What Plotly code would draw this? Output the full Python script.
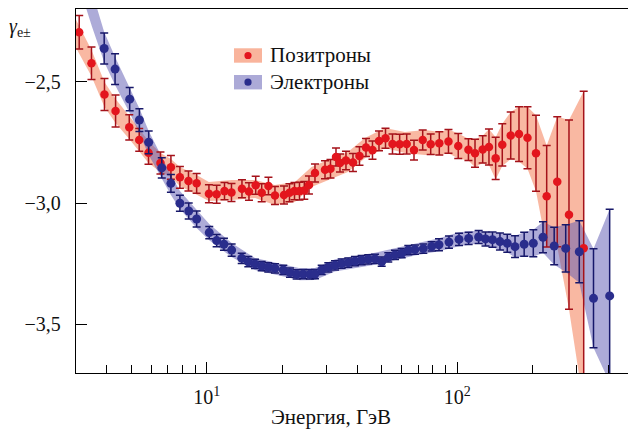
import math
import plotly.graph_objects as go

# ---- positrons: energy (GeV), spectral index, uncertainty ----
e_pos = [3.10, 3.47, 3.91, 4.33, 4.91, 5.38, 5.86, 6.54, 7.20, 7.82, 8.46, 9.12,
         10.21, 10.96, 11.78, 12.56, 13.83, 14.75, 15.69, 16.58, 17.64, 18.73,
         20.35, 21.40, 22.41, 23.46, 24.52, 25.60, 27.05, 29.66, 31.19, 32.81,
         34.04, 35.96, 38.35, 40.71, 43.22, 45.88, 48.71, 51.71, 55.14, 58.89,
         62.83, 67.19, 72.78, 78.33, 84.77, 92.23, 100.9, 110.8, 117.7, 126.3,
         133.8, 142.3, 151.2, 163.4, 176.3, 190.6, 206.1, 227.4, 250.6, 279.1, 319.5]
g_pos = [-2.296, -2.424, -2.553, -2.621, -2.688, -2.740, -2.793, -2.835, -2.853, -2.894,
         -2.909, -2.919, -2.962, -2.964, -2.951, -2.957, -2.941, -2.953, -2.927, -2.958,
         -2.930, -2.969, -2.967, -2.958, -2.951, -2.951, -2.948, -2.926, -2.876, -2.863,
         -2.859, -2.810, -2.835, -2.825, -2.833, -2.806, -2.771, -2.782, -2.744, -2.733,
         -2.757, -2.758, -2.757, -2.782, -2.740, -2.758, -2.754, -2.746, -2.765, -2.780,
         -2.795, -2.779, -2.769, -2.816, -2.760, -2.722, -2.716, -2.731, -2.795, -2.972,
         -2.912, -3.048, -3.186]
err_pos = [0.069, 0.067, 0.066, 0.066, 0.052, 0.047, 0.047, 0.045, 0.049, 0.045, 0.041, 0.041,
           0.037, 0.037, 0.036, 0.037, 0.037, 0.036, 0.037, 0.037, 0.036, 0.037, 0.037, 0.037,
           0.036, 0.037, 0.037, 0.037, 0.037, 0.037, 0.038, 0.037, 0.037, 0.038, 0.037, 0.038,
           0.037, 0.038, 0.041, 0.041, 0.041, 0.041, 0.041, 0.041, 0.041, 0.042, 0.048,
           0.049, 0.052, 0.045, 0.058, 0.056, 0.074, 0.087, 0.087, 0.097, 0.113, 0.128,
           0.157, 0.209, 0.268, 0.390, 0.647]

# ---- electrons ----
e_ele = [3.90, 4.31, 4.93, 5.39, 5.87, 6.62, 7.20, 7.82, 8.48, 9.12, 10.24, 10.96,
         11.72, 12.58, 13.80, 14.66, 15.59, 16.58, 17.61, 18.73, 20.22, 21.50, 22.86,
         24.29, 25.83, 27.05, 28.77, 30.57, 32.51, 34.57, 36.73, 39.06, 41.54, 44.14,
         46.95, 49.93, 53.05, 56.42, 59.99, 63.76, 67.80, 73.18, 79.03, 84.53, 92.66,
         101.6, 111.0, 121.7, 129.6, 138.2, 148.0, 158.3, 170.0, 184.9, 201.1, 219.8,
         243.6, 270.8, 306.8, 349.6, 405.6]
g_ele = [-2.363, -2.448, -2.572, -2.658, -2.750, -2.855, -2.919, -3.001, -3.033, -3.066,
         -3.122, -3.155, -3.170, -3.194, -3.228, -3.242, -3.251, -3.260, -3.265, -3.269,
         -3.276, -3.287, -3.294, -3.293, -3.294, -3.293, -3.276, -3.265, -3.257, -3.250,
         -3.246, -3.240, -3.235, -3.232, -3.230, -3.242, -3.224, -3.214, -3.207, -3.194,
         -3.192, -3.188, -3.179, -3.172, -3.161, -3.150, -3.146, -3.140, -3.148, -3.151,
         -3.159, -3.166, -3.180, -3.170, -3.166, -3.141, -3.177, -3.187, -3.201, -3.393,
         -3.383]
err_ele = [0.064, 0.063, 0.048, 0.047, 0.047, 0.042, 0.037, 0.033, 0.033, 0.033,
           0.025, 0.025, 0.025, 0.025, 0.021, 0.021,
           0.019, 0.019, 0.019, 0.019, 0.019, 0.019, 0.019, 0.019, 0.019, 0.019,
           0.019, 0.019, 0.019, 0.019, 0.019, 0.019, 0.019, 0.019, 0.019, 0.019,
           0.019, 0.019, 0.019, 0.019, 0.019, 0.019, 0.019,
           0.025, 0.025, 0.025, 0.025,
           0.027, 0.029, 0.031, 0.035, 0.037, 0.045, 0.049, 0.056, 0.064, 0.077,
           0.097, 0.128, 0.204, 0.357]

# ---- uncertainty bands (low-energy part; above ~90 GeV they follow the error bars) ----
band_pos_e = [3.0, 3.47, 3.91, 4.33, 4.91, 5.38, 5.86, 6.54, 7.20, 7.82, 9.12, 10.2,
              12.6, 15.6, 18.7, 22.5, 26.2, 30.5, 36.6, 42.8, 51.5, 61.8, 74.3, 85.3]
band_pos_hi = [-2.242, -2.369, -2.501, -2.571, -2.641, -2.695, -2.744, -2.794, -2.819, -2.852,
               -2.885, -2.913, -2.905, -2.905, -2.926, -2.913, -2.852, -2.823, -2.790, -2.732,
               -2.691, -2.707, -2.699, -2.707]
band_pos_lo = [-2.357, -2.477, -2.604, -2.670, -2.736, -2.786, -2.835, -2.872, -2.893, -2.930,
               -2.967, -2.992, -2.988, -2.979, -3.008, -2.996, -2.934, -2.905, -2.872, -2.815,
               -2.773, -2.794, -2.802, -2.802]
pos_tail_start = 47

band_ele_e = [3.0, 3.49, 3.90, 4.31, 4.93, 5.39, 5.87, 6.62, 7.20, 7.82, 9.12, 10.24,
              12.58, 15.59, 18.73, 23.57, 27.05, 32.51, 46.95, 67.8, 84.5, 101.6]
band_ele_hi = [-1.904, -2.126, -2.295, -2.398, -2.522, -2.610, -2.703, -2.810, -2.885, -2.951,
               -3.029, -3.087, -3.165, -3.227, -3.245, -3.269, -3.268, -3.232, -3.205, -3.167,
               -3.145, -3.121]
band_ele_lo = [-2.060, -2.275, -2.419, -2.514, -2.629, -2.714, -2.802, -2.901, -2.967, -3.025,
               -3.103, -3.153, -3.223, -3.276, -3.295, -3.318, -3.317, -3.282, -3.254, -3.216,
               -3.199, -3.178]
ele_tail_start = 47

x_ticks = [10, 100]
x_ticktext = ["10<sup>1</sup>", "10<sup>2</sup>"]
x_minor = [4, 5, 6, 7, 8, 9, 20, 30, 40, 50, 60, 70, 80, 90, 200, 300, 400]
y_ticks = [-3.5, -3.0, -2.5]
y_ticktext = ["\u22123,5", "\u22123,0", "\u22122,5"]

SERIF = "Liberation Serif, Times New Roman, serif"
POS_BAND = "rgba(246,140,105,0.62)"
ELE_BAND = "rgba(92,88,178,0.5)"
POS_DOT, POS_BAR = "#e3151d", "#a5121a"
ELE_DOT, ELE_BAR = "#2a2d8c", "#17186a"


def band_polygon(e_nodes, hi_nodes, lo_nodes, e, g, err, start):
    xs = list(e_nodes) + list(e[start:])
    hi = list(hi_nodes) + [v + d for v, d in zip(g[start:], err[start:])]
    lo = list(lo_nodes) + [v - d for v, d in zip(g[start:], err[start:])]
    return xs + xs[::-1], hi + lo[::-1]


fig = go.Figure()

bx, by = band_polygon(band_pos_e, band_pos_hi, band_pos_lo, e_pos, g_pos, err_pos, pos_tail_start)
fig.add_trace(go.Scatter(x=bx, y=by, fill="toself", fillcolor=POS_BAND, mode="lines",
                         line=dict(width=0), hoverinfo="skip", showlegend=False))
bx, by = band_polygon(band_ele_e, band_ele_hi, band_ele_lo, e_ele, g_ele, err_ele, ele_tail_start)
fig.add_trace(go.Scatter(x=bx, y=by, fill="toself", fillcolor=ELE_BAND, mode="lines",
                         line=dict(width=0), hoverinfo="skip", showlegend=False))

fig.add_trace(go.Scatter(
    x=e_pos, y=g_pos, mode="markers", name="Позитроны", showlegend=False,
    marker=dict(color=POS_DOT, size=8.5, line=dict(width=0)),
    error_y=dict(type="data", array=err_pos, color=POS_BAR, thickness=1.5, width=4)))
fig.add_trace(go.Scatter(
    x=e_ele, y=g_ele, mode="markers", name="Электроны", showlegend=False,
    marker=dict(color=ELE_DOT, size=9, line=dict(width=0)),
    error_y=dict(type="data", array=err_ele, color=ELE_BAR, thickness=1.5, width=4)))

# legend drawn as swatches with a dot and a caption
legend_items = [("Позитроны", "rgb(249,180,156)", POS_DOT, 0.8723),
                ("Электроны", "rgb(172,170,215)", ELE_DOT, 0.7989)]
shapes, annotations = [], []
for label, swatch, dot, yc in legend_items:
    shapes.append(dict(type="rect", xref="paper", yref="paper", x0=0.2862, x1=0.3370,
                       y0=yc - 0.0198, y1=yc + 0.0198, fillcolor=swatch, line=dict(width=0),
                       layer="above"))
    shapes.append(dict(type="circle", xref="paper", yref="paper", xsizemode="pixel",
                       ysizemode="pixel", xanchor=0.3116, yanchor=yc, x0=-3.6, x1=3.6,
                       y0=-3.6, y1=3.6, fillcolor=dot, line=dict(width=0), layer="above"))
    annotations.append(dict(text=label, xref="paper", yref="paper", x=0.3478, y=yc,
                            xanchor="left", yanchor="middle", showarrow=False,
                            font=dict(family=SERIF, size=21, color="#111")))

annotations.append(dict(text="Энергия, ГэВ", xref="paper", yref="paper", x=0.462, y=-0.121,
                        xanchor="center", yanchor="middle", showarrow=False,
                        font=dict(family=SERIF, size=21, color="#111")))
annotations.append(dict(text="<i>γ</i><sub>e±</sub>", xref="paper", yref="paper", x=-0.125,
                        y=0.95, xanchor="left", yanchor="middle", showarrow=False,
                        font=dict(family=SERIF, size=20, color="#111")))

fig.update_layout(
    width=628, height=430,
    margin=dict(l=76, r=0, t=9, b=57),
    paper_bgcolor="white", plot_bgcolor="white",
    shapes=shapes, annotations=annotations,
    font=dict(family=SERIF, color="#111"),
    xaxis=dict(type="log", range=[math.log10(3.01), math.log10(480)],
               showline=True, linecolor="black", linewidth=1.3, mirror=True,
               ticks="inside", ticklen=11, tickwidth=1.2, tickcolor="black",
               tickmode="array", tickvals=x_ticks, ticktext=x_ticktext,
               tickfont=dict(family=SERIF, size=20, color="#111"), ticklabelstandoff=6,
               minor=dict(ticks="inside", ticklen=7.5, tickwidth=1.2, tickcolor="black",
                          tickvals=x_minor, showgrid=False),
               showgrid=False, zeroline=False),
    yaxis=dict(range=[-3.7007, -2.2003], showline=True, linecolor="black", linewidth=1.3,
               ticks="inside", ticklen=11, tickwidth=1.2, tickcolor="black",
               tickmode="array", tickvals=y_ticks, ticktext=y_ticktext,
               tickfont=dict(family=SERIF, size=20, color="#111"), ticklabelstandoff=10,
               showgrid=False, zeroline=False),
)

fig.write_html("out.html")
